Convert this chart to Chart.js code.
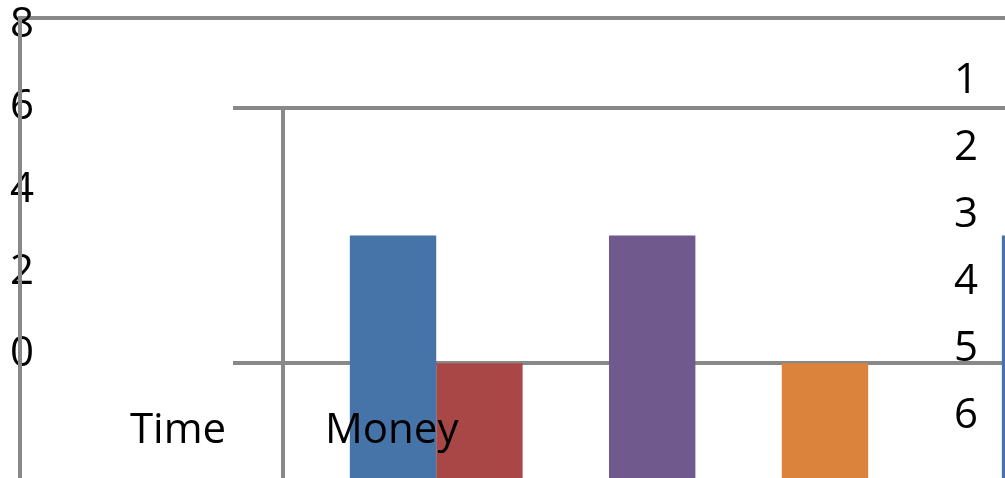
<!DOCTYPE html>
<html>
<head>
<meta charset="utf-8">
<script src="https://cdn.jsdelivr.net/npm/chart.js@4.4.1/dist/chart.umd.min.js"></script>
<style>
  html, body { margin: 0; padding: 0; background: #fff; overflow: hidden; }
  #wrap { position: relative; width: 1005px; height: 478px; overflow: hidden; }
  #bars, #frame { position: absolute; left: 0; top: 0; }
</style>
</head>
<body>
<div id="wrap">
  <canvas id="bars" width="1587" height="478"></canvas>
  <canvas id="frame" width="1005" height="478"></canvas>
</div>
<script>
// values
const categories = ["Time", "Money"];
const seriesNames = ["1", "2", "3", "4", "5", "6"];
const series1 = [1, 1];
const series2 = [0, 0];
const series3 = [null, null];
const series4 = [1, 1];
const series5 = [null, null];
const series6 = [0, 0];
const outerTicks = [0, 2, 4, 6, 8];
const innerTicks = [0, 2];

const seriesColors = ["#4673a8", "#a84745", "#89a54e", "#70598d", "#3d96ae", "#db833c"];
const gray = "#888888";
const innerMin = -0.9;
const outerMin = -3.18;
const outerMax = 8;

Chart.defaults.font.family = "'Open Sans', sans-serif";
Chart.defaults.color = "#000";

const zeroPad = s => { s.paddingTop = 0; s.paddingBottom = 0; s.paddingLeft = 0; s.paddingRight = 0; };

// bars with their own inner axes (sits underneath)
new Chart(document.getElementById("bars"), {
    type: "bar",
    data: {
        labels: categories,
        datasets: [series1, series2, series3, series4, series5, series6].map((d, i) => ({
            label: seriesNames[i],
            data: d,
            backgroundColor: seriesColors[i],
            base: innerMin,
            categoryPercentage: 0.795,
            barPercentage: 1
        }))
    },
    options: {
        responsive: false,
        animation: false,
        layout: { padding: { left: 233, top: 108, right: 0, bottom: 0 } },
        plugins: { legend: { display: false }, tooltip: { enabled: false } },
        scales: {
            x: { display: false },
            y: {
                min: innerMin,
                max: 2,
                afterBuildTicks: s => { s.ticks = innerTicks.map(v => ({ value: v })); },
                ticks: { display: false },
                grid: { color: gray, lineWidth: 4, tickLength: 50 },
                border: { color: gray, width: 4 }
            }
        }
    }
});

// outer frame, value axis, category labels and series names (on top)
new Chart(document.getElementById("frame"), {
    type: "scatter",
    data: { datasets: [] },
    options: {
        responsive: false,
        animation: false,
        layout: { padding: { left: 20, top: 18, right: 0, bottom: 0 } },
        plugins: { legend: { display: false }, tooltip: { enabled: false } },
        scales: {
            x: {
                type: "linear",
                min: -0.564,
                max: 4.487,
                position: { y: -1.234 },
                afterBuildTicks: s => { s.ticks = categories.map((c, i) => ({ value: i })); },
                afterFit: zeroPad,
                ticks: {
                    align: "start", maxRotation: 0, autoSkip: false, padding: 0,
                    font: { size: 42 },
                    callback: v => categories[v]
                },
                grid: { display: false },
                border: { display: false }
            },
            y: {
                min: outerMin,
                max: outerMax,
                afterBuildTicks: s => { s.ticks = outerTicks.map(v => ({ value: v })); },
                afterFit: s => { zeroPad(s); s.width = 0; },
                ticks: { mirror: true, padding: -10, labelOffset: 7, font: { size: 42 } },
                grid: { display: false },
                border: { display: false }
            },
            // frame lines drawn over the value labels
            frame: {
                axis: "y",
                position: "left",
                z: 1,
                min: outerMin,
                max: outerMax,
                afterBuildTicks: s => { s.ticks = [{ value: outerMax }]; },
                afterFit: s => { zeroPad(s); s.width = 0; },
                ticks: { display: false },
                grid: { drawTicks: false, lineWidth: 4, color: gray },
                border: { color: gray, width: 4 }
            },
            names: {
                axis: "y",
                type: "linear",
                reverse: true,
                min: 0.06,
                max: 6.926,
                position: { x: 4.349 },
                afterBuildTicks: s => { s.ticks = seriesNames.map((n, i) => ({ value: i + 1 })); },
                afterFit: zeroPad,
                ticks: { autoSkip: false, padding: 0, font: { size: 42 }, callback: v => seriesNames[v - 1] },
                grid: { display: false },
                border: { display: false }
            }
        }
    }
});
</script>
</body>
</html>
